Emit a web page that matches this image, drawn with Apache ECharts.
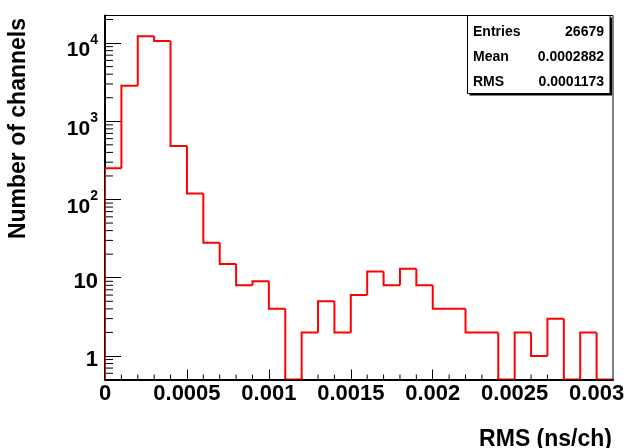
<!DOCTYPE html>
<html>
<head>
<meta charset="utf-8">
<script src="https://cdn.jsdelivr.net/npm/echarts@6/dist/echarts.min.js"></script>
<style>
html,body{margin:0;padding:0;background:#fff;}
#chart{width:626px;height:448px;}
</style>
</head>
<body>
<div id="chart"></div>
<script>
// ---- data ----
const binWidth = 0.0001;           // histogram bin width (ns/ch)
const counts = [250, 2850, 12250, 10600, 484, 119, 28, 15, 8, 9, 4, 0, 2, 5, 2, 6, 12, 8, 13, 8, 4, 4, 2, 2, 0, 2, 1, 3, 0, 2, 0];
const xLabelsStep = 0.0005;        // labelled x ticks: 0, 0.0005 ... 0.003
const xMin = 0, xMax = 0.0031;
const yMin = 0.5, yMax = 22500;
const statsNames = ['Entries', 'Mean', 'RMS'];
const statsValues = ['26679', '0.0002882', '0.0001173'];
const xTitle = 'RMS (ns/ch)';
const yTitle = 'Number of channels';

// minor tick values
const yMinorTicks = [];
for (let k = -1; k <= 4; k++) {
  for (let m = 2; m <= 9; m++) {
    const v = m * Math.pow(10, k);
    if (v > yMin && v < yMax) yMinorTicks.push(+v.toPrecision(3));
  }
}
const xMinorTicks = [];
for (let i = 1; i <= 30; i++) {
  if (i % 5 !== 0) xMinorTicks.push(+(i * binWidth).toFixed(5));
}

const FONT = '"Liberation Sans", Arial, Helvetica, sans-serif';
const histData = counts.map((c, i) => [+(i * binWidth).toFixed(5), +((i + 1) * binWidth).toFixed(5), c]);

const chart = echarts.init(document.getElementById('chart'), null, {renderer: 'canvas'});

function clampY(v) { return v > yMin ? v : yMin; }

const option = {
  backgroundColor: '#ffffff',
  animation: false,
  grid: {
    left: 105, right: 13, top: 15.5, bottom: 68.5,
    show: true, borderColor: '#000', borderWidth: 1, backgroundColor: 'transparent',
    outerBoundsMode: 'none', containLabel: false
  },
  xAxis: {
    type: 'value', min: xMin, max: xMax, interval: xLabelsStep,
    splitLine: {show: false},
    axisLine: {show: true, onZero: false, lineStyle: {color: '#000', width: 2}},
    axisTick: {show: true, inside: true, length: 10, lineStyle: {color: '#000', width: 1}},
    axisLabel: {
      show: true, margin: 3, color: '#000', fontFamily: FONT, fontWeight: 'bold', fontSize: 22,
      showMaxLabel: false,
      formatter: function (v) {
        const r = v / xLabelsStep;
        if (Math.abs(r - Math.round(r)) > 1e-6) return '';
        return v === 0 ? '0' : String(parseFloat(v.toFixed(5)));
      }
    }
  },
  yAxis: {
    type: 'log', logBase: 10, min: yMin, max: yMax, splitNumber: 5,
    splitLine: {show: false},
    axisLine: {show: true, onZero: false, lineStyle: {color: '#000', width: 2}},
    axisTick: {show: true, inside: true, length: 16, lineStyle: {color: '#000', width: 1}},
    axisLabel: {
      show: true, margin: 7, color: '#000', fontFamily: FONT, fontWeight: 'bold', fontSize: 22,
      padding: [8, 0, 0, 0],
      formatter: function (v) {
        const e = Math.round(Math.log10(v));
        const p = Math.pow(10, e);
        if (Math.abs(v - p) / p > 1e-6) return '';
        if (e === 0) return '1';
        if (e === 1) return '10';
        return '{b|10}{s|' + e + '}';
      },
      rich: {
        b: {fontFamily: FONT, fontWeight: 'bold', fontSize: 21, color: '#000', lineHeight: 28, verticalAlign: 'bottom'},
        s: {fontFamily: FONT, fontWeight: 'bold', fontSize: 14, color: '#000', lineHeight: 28, verticalAlign: 'top'}
      }
    }
  },
  series: [
    {
      type: 'custom', name: 'yMinor', coordinateSystem: 'cartesian2d', silent: true, clip: false,
      data: yMinorTicks.map(v => [xMin, v]),
      encode: {x: 0, y: 1},
      renderItem: function (params, api) {
        const p = api.coord([xMin, api.value(1)]);
        return {type: 'line', shape: {x1: p[0], y1: p[1], x2: p[0] + 8, y2: p[1]},
          style: {stroke: '#000', lineWidth: 1}};
      }
    },
    {
      type: 'custom', name: 'xMinor', coordinateSystem: 'cartesian2d', silent: true, clip: false,
      data: xMinorTicks.map(v => [v, yMin]),
      encode: {x: 0, y: 1},
      renderItem: function (params, api) {
        const p = api.coord([api.value(0), yMin]);
        return {type: 'line', shape: {x1: p[0], y1: p[1], x2: p[0], y2: p[1] - 5},
          style: {stroke: '#000', lineWidth: 1}};
      }
    },
    {
      type: 'custom', name: 'histogram', coordinateSystem: 'cartesian2d', silent: true, clip: true,
      data: histData,
      encode: {x: [0, 1], y: 2},
      z: 3,
      renderItem: function (params, api) {
        const i = params.dataIndex;
        const x0 = api.value(0), x1 = api.value(1), v = api.value(2);
        const prev = i > 0 ? counts[i - 1] : yMin;
        const a = api.coord([x0, clampY(prev)]);
        const b = api.coord([x0, clampY(v)]);
        const c = api.coord([x1, clampY(v)]);
        return {type: 'polyline', shape: {points: [a, b, c]},
          style: {stroke: '#ff0000', lineWidth: 2, fill: null, lineJoin: 'miter'}};
      }
    }
  ],
  graphic: [
    {type: 'text', x: 19, y: 18, rotation: Math.PI / 2,
      style: {text: yTitle, font: 'bold 23px ' + FONT, fill: '#000', align: 'right', verticalAlign: 'middle'}},
    {type: 'text', x: 612, y: 440,
      style: {text: xTitle, font: 'bold 23px ' + FONT, fill: '#000', align: 'right', verticalAlign: 'middle'}},
    {type: 'rect', shape: {x: 469.5, y: 17.5, width: 142.5, height: 78}, style: {fill: '#000'}, z: 10},
    {type: 'rect', shape: {x: 467.5, y: 15.5, width: 142.5, height: 78}, style: {fill: '#fff', stroke: '#000', lineWidth: 1}, z: 11}
  ].concat(statsNames.map((n, i) => ({
    type: 'text', x: 473, y: 31.7 + 25 * i, z: 12,
    style: {text: n, font: 'bold 14px ' + FONT, fill: '#000', align: 'left', verticalAlign: 'middle'}
  }))).concat(statsValues.map((n, i) => ({
    type: 'text', x: 604, y: 31.7 + 25 * i, z: 12,
    style: {text: n, font: 'bold 14px ' + FONT, fill: '#000', align: 'right', verticalAlign: 'middle'}
  })))
};
chart.setOption(option);
</script>
</body>
</html>
